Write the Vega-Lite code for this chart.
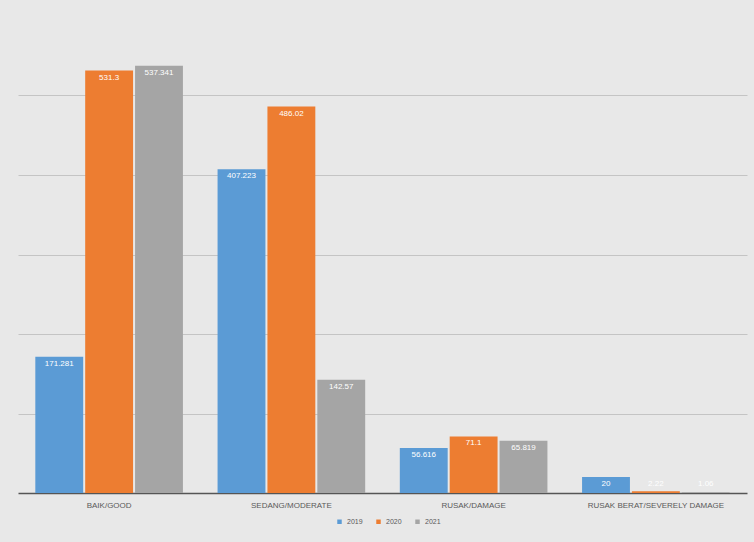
{
  "$schema": "https://vega.github.io/schema/vega-lite/v6.json",
  "width": 729,
  "height": 477,
  "padding": {"left": 18, "top": 16, "right": 7, "bottom": 20},
  "background": "#e8e8e8",
  "config": {"view": {"stroke": null}, "font": "Liberation Sans"},
  "data": {"values": [
    {"kategori": "BAIK/GOOD", "tahun": "2019", "nilai": 171.281, "label": "171.281"},
    {"kategori": "BAIK/GOOD", "tahun": "2020", "nilai": 531.3, "label": "531.3"},
    {"kategori": "BAIK/GOOD", "tahun": "2021", "nilai": 537.341, "label": "537.341"},
    {"kategori": "SEDANG/MODERATE", "tahun": "2019", "nilai": 407.223, "label": "407.223"},
    {"kategori": "SEDANG/MODERATE", "tahun": "2020", "nilai": 486.02, "label": "486.02"},
    {"kategori": "SEDANG/MODERATE", "tahun": "2021", "nilai": 142.57, "label": "142.57"},
    {"kategori": "RUSAK/DAMAGE", "tahun": "2019", "nilai": 56.616, "label": "56.616"},
    {"kategori": "RUSAK/DAMAGE", "tahun": "2020", "nilai": 71.1, "label": "71.1"},
    {"kategori": "RUSAK/DAMAGE", "tahun": "2021", "nilai": 65.819, "label": "65.819"},
    {"kategori": "RUSAK BERAT/SEVERELY DAMAGE", "tahun": "2019", "nilai": 20, "label": "20"},
    {"kategori": "RUSAK BERAT/SEVERELY DAMAGE", "tahun": "2020", "nilai": 2.22, "label": "2.22"},
    {"kategori": "RUSAK BERAT/SEVERELY DAMAGE", "tahun": "2021", "nilai": 1.06, "label": "1.06"}
  ]},
  "encoding": {
    "x": {"field": "kategori", "type": "nominal", "sort": null,
      "scale": {"paddingInner": 0.19, "paddingOuter": 0.095},
      "axis": {"title": null, "labelAngle": 0, "labelFontSize": 8, "labelColor": "#595959", "labelPadding": 8, "ticks": false, "domainColor": "#555555", "domainWidth": 1.5}},
    "xOffset": {"field": "tahun", "type": "nominal", "scale": {"paddingInner": 0.04}}
  },
  "layer": [
    {
      "mark": {"type": "bar"},
      "encoding": {
        "y": {"field": "nilai", "type": "quantitative", "scale": {"domain": [0, 600]},
          "axis": {"title": null, "labels": false, "ticks": false, "domain": false, "values": [100, 200, 300, 400, 500], "gridColor": "#c4c4c4", "gridWidth": 1}},
        "color": {"field": "tahun", "type": "nominal",
          "scale": {"domain": ["2019", "2020", "2021"], "range": ["#5b9bd5", "#ed7d31", "#a5a5a5"]},
          "legend": {"title": null, "orient": "none", "legendX": 318, "legendY": 502, "direction": "horizontal", "symbolType": "square", "symbolSize": 20, "labelFontSize": 7, "labelColor": "#595959", "columnPadding": 12}}
      }
    },
    {
      "transform": [{"calculate": "max(datum.nilai, 20)", "as": "pos"}],
      "mark": {"type": "text", "color": "white", "fontSize": 8, "baseline": "top", "dy": 3},
      "encoding": {
        "y": {"field": "pos", "type": "quantitative"},
        "text": {"field": "label"}
      }
    }
  ]
}
